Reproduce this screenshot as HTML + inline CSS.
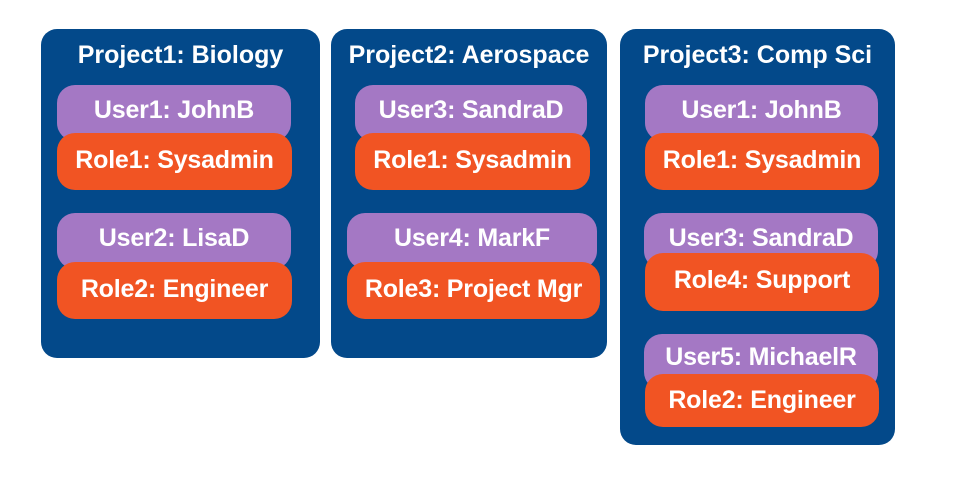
<!DOCTYPE html>
<html><head><meta charset="utf-8"><style>
body{margin:0;width:972px;height:484px;background:#fff;position:relative;overflow:hidden;font-family:"Liberation Sans",Arial,sans-serif;font-weight:bold;color:#fff}
.c{position:absolute;background:#03498a;border-radius:16px}
.t{position:absolute;font-size:25px;text-align:center;line-height:28px;white-space:nowrap}
.u,.r{position:absolute;border-radius:18px;font-size:25px;text-align:center;white-space:nowrap;letter-spacing:-0.2px}
.u{background:#a478c4;height:56px;line-height:50px}
.r{background:#f15423;height:57px;line-height:54px}
</style></head><body>
<div class="c" style="left:41px;top:29px;width:279px;height:329px"></div>
<div class="c" style="left:331px;top:29px;width:276px;height:329px"></div>
<div class="c" style="left:620px;top:29px;width:275px;height:416px"></div>

<div class="t" style="left:41px;top:41px;width:279px">Project1: Biology</div>
<div class="t" style="left:331px;top:41px;width:276px">Project2: Aerospace</div>
<div class="t" style="left:620px;top:41px;width:275px">Project3: Comp Sci</div>

<div class="u" style="left:57px;top:85px;width:234px">User1: JohnB</div>
<div class="r" style="left:57px;top:133px;width:235px">Role1: Sysadmin</div>
<div class="u" style="left:57px;top:213px;width:234px">User2: LisaD</div>
<div class="r" style="left:57px;top:262px;width:235px">Role2: Engineer</div>

<div class="u" style="left:355px;top:85px;width:232px">User3: SandraD</div>
<div class="r" style="left:355px;top:133px;width:235px">Role1: Sysadmin</div>
<div class="u" style="left:347px;top:213px;width:250px">User4: MarkF</div>
<div class="r" style="left:347px;top:262px;width:253px">Role3: Project Mgr</div>

<div class="u" style="left:645px;top:85px;width:233px">User1: JohnB</div>
<div class="r" style="left:645px;top:133px;width:234px">Role1: Sysadmin</div>
<div class="u" style="left:644px;top:213px;width:234px">User3: SandraD</div>
<div class="r" style="left:645px;top:253px;width:234px;height:58px">Role4: Support</div>
<div class="u" style="left:644px;top:334px;width:234px;line-height:46px">User5: MichaelR</div>
<div class="r" style="left:645px;top:374px;width:234px;height:53px;line-height:52px">Role2: Engineer</div>
</body></html>
